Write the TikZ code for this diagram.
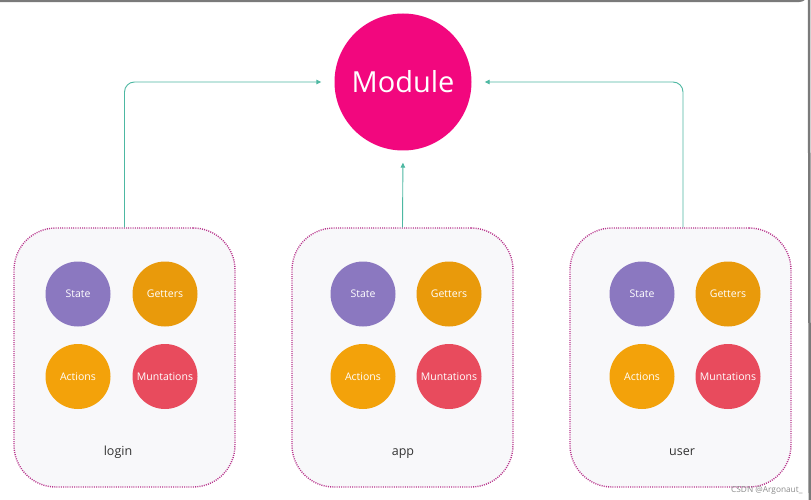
\documentclass[tikz,border=0pt]{standalone}
\usepackage{fontspec}
\setmainfont{Open Sans}
\usetikzlibrary{arrows.meta}
\definecolor{modc}{HTML}{F2077E}
\definecolor{statec}{HTML}{8B78C0}
\definecolor{getc}{HTML}{E99A0B}
\definecolor{actc}{HTML}{F3A20A}
\definecolor{mutc}{HTML}{E84B5D}
\definecolor{arrc}{HTML}{4DB8A2}
\definecolor{boxfill}{HTML}{F8F8FA}
\definecolor{boxline}{HTML}{B8348C}
\definecolor{framec}{HTML}{7A7A7A}
\tikzset{
  modbox/.style={draw=boxline, fill=boxfill, line width=1.4pt, dash pattern=on 1pt off 1.2pt,
    rounded corners=42pt, minimum width=221pt, minimum height=259pt, inner sep=0pt},
  ball/.style={circle, minimum size=65pt, inner sep=0pt, text=white, font=\fontsize{10.5}{12}\selectfont},
  boxlabel/.style={text=black!80, font=\fontsize{12.5}{14}\selectfont, anchor=base},
  arr/.style={draw=arrc, line width=0.9pt, -{Triangle[length=5pt,width=4.5pt]}, rounded corners=10pt},
}
\begin{document}
\begin{tikzpicture}[x=1pt,y=-1pt]
\useasboundingbox (0,0) rectangle (811,500);
\fill[white] (0,0) rectangle (811,500);
% screenshot frame
\draw[framec, line width=2.5pt] (0,1) -- (798,1) arc[start angle=90, end angle=0, radius=11] -- (809.75,500);
% module
\node[circle, fill=modc, minimum size=137pt, inner sep=0pt, text=white, font=\fontsize{29}{34}\selectfont] (mod) at (403,82) {Module};
% boxes
\foreach \n/\cx/\sx/\gx/\lx/\lab in {L/124.5/78/165/118/login, M/402.5/363/449/403/app, R/680.5/642/728/682/user}{
  \node[modbox] (box\n) at (\cx,357.5) {};
  \node[ball, fill=statec] (state\n) at (\sx,294) {State};
  \node[ball, fill=getc] (get\n) at (\gx,294) {Getters};
  \node[ball, fill=actc] (act\n) at (\sx,376.5) {Actions};
  \node[ball, fill=mutc] (mut\n) at (\gx,376.5) {Muntations};
  \node[boxlabel] (lab\n) at (\lx,455) {\lab};
}
% connectors
\draw[arr, shorten >=13pt] (boxL.north) |- (mod);
\draw[arr, shorten >=13pt] ([xshift=2.5pt]boxR.north) |- (mod);
\draw[arr, shorten >=12pt] (boxM.north) -- (mod.south);
% watermark
\node[text=black!45, font=\fontsize{8.3}{9}\selectfont, anchor=east] (wm) at (806,490) {CSDN @Argonaut\_};
\end{tikzpicture}
\end{document}
